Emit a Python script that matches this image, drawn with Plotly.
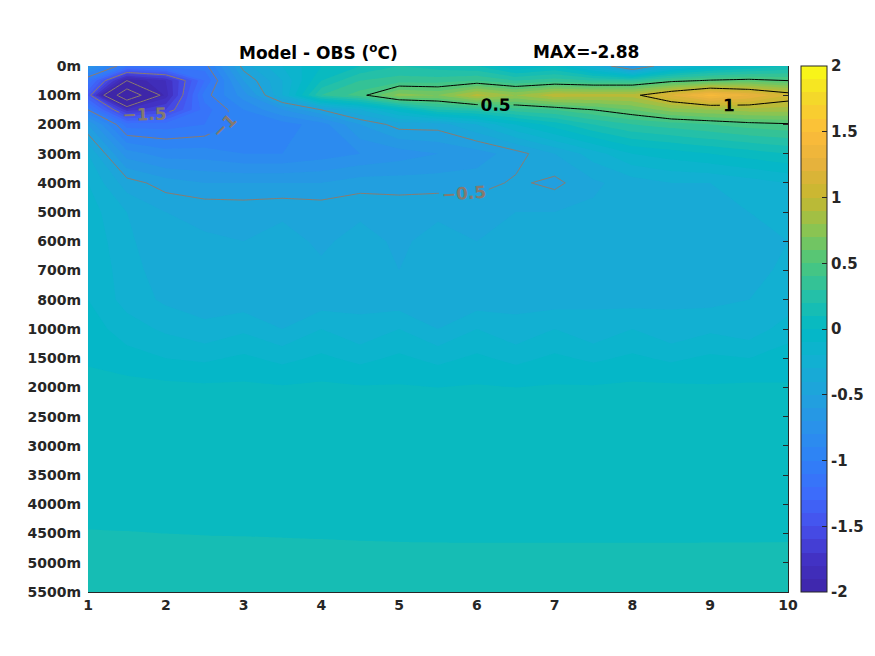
import plotly.graph_objects as go

# x positions (1..10, half steps) and depth rows (index of the depth label)
x_vals = [1, 1.5, 2, 2.5, 3, 3.5, 4, 4.5, 5, 5.5, 6, 6.5, 7, 7.5, 8, 8.5, 9, 9.5, 10]
depth_pos = [0, 0.5, 1, 1.5, 2, 3, 4, 5, 6, 7, 8, 9, 10, 11, 12, 13, 14, 15, 16, 17, 18]
depth_labels = ["0m", "100m", "200m", "300m", "400m", "500m", "600m", "700m", "800m",
                "1000m", "1500m", "2000m", "2500m", "3000m", "3500m", "4000m",
                "4500m", "5000m", "5500m"]

# model - obs differences, one row per depth
d0    = [-0.7, -1.1, -1.05, -1.05, -0.45, -0.2, 0.0, 0.1, 0.2, 0.15, 0.1, -0.1, 0.0, -0.3, -0.75, -0.3, -0.1, 0.0, 0.1]
d50   = [-1.1, -2.0, -1.8, -1.2, -0.6, -0.3, 0.1, 0.3, 0.35, 0.35, 0.4, 0.3, 0.35, 0.3, 0.3, 0.45, 0.52, 0.55, 0.5]
d100  = [-1.4, -2.88, -1.85, -1.05, -0.75, -0.3, 0.3, 0.45, 0.75, 0.7, 0.95, 0.8, 0.97, 0.95, 0.95, 1.2, 1.45, 1.3, 1.1]
d150  = [-1.0, -1.75, -1.6, -1.15, -0.9, -0.7, -0.5, -0.3, -0.05, 0.2, 0.25, 0.35, 0.4, 0.5, 0.6, 0.75, 0.8, 0.85, 0.85]
d200  = [-0.6, -1.15, -1.15, -1.1, -0.95, -0.95, -0.85, -0.6, -0.45, -0.45, -0.3, -0.1, 0.05, 0.2, 0.3, 0.35, 0.4, 0.45, 0.48]
d300  = [-0.3, -0.75, -0.85, -0.85, -0.9, -0.9, -0.85, -0.8, -0.75, -0.7, -0.65, -0.55, -0.4, -0.25, -0.1, -0.05, 0.0, 0.05, 0.1]
d400  = [-0.2, -0.45, -0.55, -0.6, -0.6, -0.6, -0.6, -0.55, -0.55, -0.55, -0.55, -0.48, -0.53, -0.42, -0.35, -0.3, -0.3, -0.25, -0.2]
d500  = [-0.15, -0.3, -0.4, -0.42, -0.43, -0.41, -0.43, -0.41, -0.43, -0.41, -0.42, -0.4, -0.4, -0.38, -0.36, -0.35, -0.33, -0.3, -0.28]
d600  = [-0.12, -0.28, -0.37, -0.39, -0.4, -0.38, -0.41, -0.38, -0.41, -0.38, -0.4, -0.38, -0.39, -0.37, -0.38, -0.36, -0.37, -0.35, -0.3]
d700  = [-0.1, -0.26, -0.35, -0.37, -0.39, -0.35, -0.39, -0.36, -0.4, -0.35, -0.39, -0.35, -0.38, -0.35, -0.37, -0.34, -0.36, -0.33, -0.28]
d800  = [-0.1, -0.24, -0.32, -0.34, -0.36, -0.31, -0.36, -0.32, -0.36, -0.31, -0.36, -0.32, -0.35, -0.31, -0.34, -0.31, -0.33, -0.3, -0.26]
d1000 = [-0.05, -0.15, -0.22, -0.28, -0.22, -0.3, -0.2, -0.28, -0.2, -0.3, -0.2, -0.28, -0.2, -0.28, -0.2, -0.28, -0.22, -0.26, -0.15]
d1500 = [-0.02, -0.06, -0.1, -0.12, -0.08, -0.13, -0.08, -0.13, -0.08, -0.13, -0.08, -0.13, -0.08, -0.12, -0.08, -0.12, -0.08, -0.1, -0.05]
d2000 = [0.05, 0.04, 0.03, 0.02, 0.02, 0.01, 0.02, 0.01, 0.01, 0.0, 0.01, 0.0, 0.01, 0.01, 0.02, 0.02, 0.01, 0.02, 0.01]
d2500 = [0.05, 0.05, 0.04, 0.04, 0.04, 0.04, 0.04, 0.04, 0.04, 0.04, 0.04, 0.04, 0.04, 0.04, 0.04, 0.04, 0.04, 0.04, 0.04]
d3000 = [0.05, 0.05, 0.05, 0.05, 0.05, 0.05, 0.05, 0.05, 0.05, 0.05, 0.05, 0.05, 0.05, 0.05, 0.05, 0.05, 0.05, 0.05, 0.05]
d3500 = [0.06, 0.06, 0.06, 0.06, 0.06, 0.06, 0.06, 0.06, 0.06, 0.06, 0.06, 0.06, 0.06, 0.06, 0.06, 0.06, 0.06, 0.06, 0.06]
d4000 = [0.07, 0.07, 0.07, 0.07, 0.07, 0.07, 0.07, 0.07, 0.07, 0.07, 0.07, 0.07, 0.07, 0.07, 0.07, 0.07, 0.07, 0.07, 0.07]
d4500 = [0.105, 0.103, 0.1, 0.098, 0.097, 0.095, 0.093, 0.09, 0.088, 0.087, 0.086, 0.086, 0.086, 0.086, 0.086, 0.086, 0.087, 0.087, 0.088]
d5000 = [0.13, 0.13, 0.13, 0.13, 0.13, 0.13, 0.13, 0.13, 0.13, 0.13, 0.13, 0.13, 0.13, 0.13, 0.13, 0.13, 0.13, 0.13, 0.13]
d5500 = [0.14, 0.14, 0.14, 0.14, 0.14, 0.14, 0.14, 0.14, 0.14, 0.14, 0.14, 0.14, 0.14, 0.14, 0.14, 0.14, 0.14, 0.14, 0.14]

z = [d0, d50, d100, d150, d200, d300, d400, d500, d600, d700, d800,
     d1000, d1500, d2000, d2500, d3000, d3500, d4000, d4500, d5000, d5500]

cbar_ticks = [-2, -1.5, -1, -0.5, 0, 0.5, 1, 1.5, 2]
cbar_text = ["-2", "-1.5", "-1", "-0.5", "0", "0.5", "1", "1.5", "2"]

# parula-like colormap
parula = [
    [0.0, "#3e26a8"], [0.0625, "#4232c4"], [0.125, "#4650ec"], [0.1875, "#3c6cfb"],
    [0.25, "#2f80f6"], [0.3125, "#2a92ea"], [0.375, "#20a2dc"], [0.4375, "#12b0d2"],
    [0.5, "#02b9c6"], [0.5625, "#24c0a8"], [0.625, "#4cc67c"], [0.6875, "#8ac452"],
    [0.75, "#c6b830"], [0.8125, "#e6b23c"], [0.875, "#fdbc3a"], [0.9375, "#f4d82a"],
    [1.0, "#f9fb15"],
]

FONT = "DejaVu Sans"
AX = "#262626"
# the page has an 8px body margin, so the figure is 8px smaller than the window
W, H = 867, 648
L, T, R, B = 80, 58, 87, 64
PW, PH = W - L - R, H - T - B


def px_x(px):
    return (px - 8 - L) / PW


def px_y(py):
    return (H - B - (py - 8)) / PH


fig = go.Figure()

fig.add_trace(go.Contour(
    x=x_vals, y=depth_pos, z=z,
    colorscale=parula, zmin=-2, zmax=2,
    autocontour=False,
    contours=dict(start=-2, end=2, size=0.1, coloring="fill", showlines=False),
    line=dict(width=0, smoothing=0),
    hoverinfo="skip",
    colorbar=dict(
        x=px_x(801), xanchor="left", y=0.5, yanchor="middle",
        len=1, thickness=26, xpad=0, ypad=0,
        outlinewidth=1, outlinecolor=AX,
        tickvals=cbar_ticks, ticktext=cbar_text,
        ticks="inside", ticklen=5, tickcolor=AX,
        tickfont=dict(family=FONT, size=15, color=AX, weight="bold"),
    ),
))

# negative contours in grey, positive in black
fig.add_trace(go.Contour(
    x=x_vals, y=depth_pos, z=z,
    autocontour=False, showscale=False, hoverinfo="skip",
    contours=dict(start=-2.5, end=-0.5, size=0.5, coloring="none",
                  showlabels=True, labelformat=".2~g",
                  labelfont=dict(family=FONT, size=17, color="#857a70", weight="bold")),
    line=dict(color="#8c7b6e", width=1, smoothing=0),
))
fig.add_trace(go.Contour(
    x=x_vals, y=depth_pos, z=z,
    autocontour=False, showscale=False, hoverinfo="skip",
    contours=dict(start=0.5, end=1.0, size=0.5, coloring="none",
                  showlabels=True, labelformat=".2~g",
                  labelfont=dict(family=FONT, size=17, color="black", weight="bold")),
    line=dict(color="black", width=1, smoothing=0),
))

# dummy trace so the right-hand axis is drawn
fig.add_trace(go.Scatter(x=[None], y=[None], yaxis="y2", showlegend=False, hoverinfo="skip"))

fig.update_layout(
    width=W, height=H,
    margin=dict(l=L, r=R, t=T, b=B, autoexpand=False),
    paper_bgcolor="white", plot_bgcolor="white",
    showlegend=False,
    font=dict(family=FONT, size=14, color=AX),
    xaxis=dict(range=[1, 10], tickvals=list(range(1, 11)), ticks="",
               showgrid=False, zeroline=False, showline=True, linecolor=AX, linewidth=1,
               tickfont=dict(family=FONT, size=14, color=AX, weight="bold")),
    yaxis=dict(range=[18, 0], tickvals=list(range(19)), ticktext=depth_labels, ticks="",
               showgrid=False, zeroline=False, showline=False, ticklabelstandoff=6,
               tickfont=dict(family=FONT, size=14, color=AX, weight="bold")),
    yaxis2=dict(range=[18, 0], overlaying="y", side="right", tickvals=list(range(19)),
                ticks="inside", ticklen=5, tickcolor=AX, showticklabels=False,
                showgrid=False, zeroline=False, showline=True, linecolor=AX, linewidth=1),
    annotations=[
        dict(text="<b>Model - OBS (<sup>o</sup>C)</b>", x=px_x(318), y=px_y(52),
             xref="paper", yref="paper", showarrow=False, xanchor="center", yanchor="middle",
             font=dict(family=FONT, size=17, color="black")),
        dict(text="<b>MAX=-2.88</b>", x=px_x(586), y=px_y(52),
             xref="paper", yref="paper", showarrow=False, xanchor="center", yanchor="middle",
             font=dict(family=FONT, size=17, color="black")),
    ],
)

fig.write_html("out.html")
